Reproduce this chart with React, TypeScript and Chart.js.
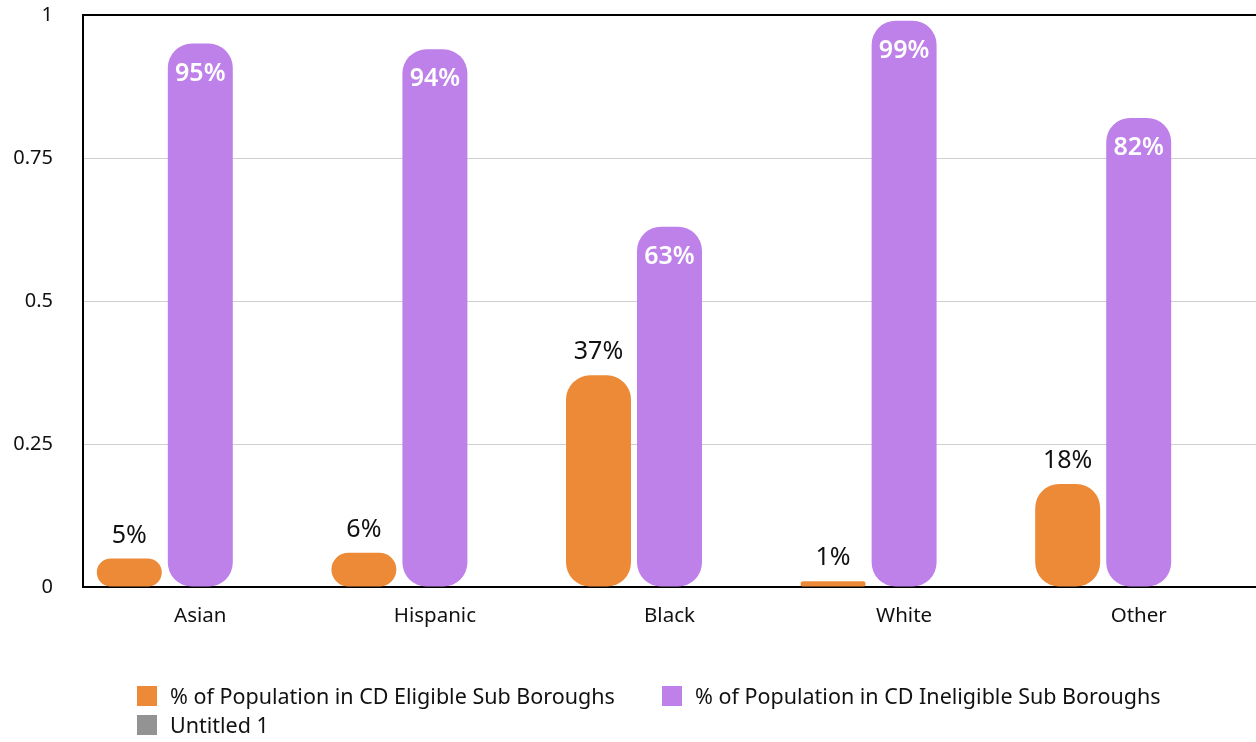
import { useEffect, useRef } from "react";
import { Chart, registerables } from "chart.js";
Chart.register(...registerables);

const categories = ["Asian", "Hispanic", "Black", "White", "Other"];
const eligible = [0.05, 0.06, 0.37, 0.01, 0.18];
const ineligible = [0.95, 0.94, 0.63, 0.99, 0.82];
const untitled: (number | null)[] = [null, null, null, null, null];
const seriesLabels = [
  "% of Population in CD Eligible Sub Boroughs",
  "% of Population in CD Ineligible Sub Boroughs",
  "Untitled 1",
];
const seriesColors = ["#EC8A37", "#BE80E9", "#939393"];
const yTickValues = [0, 0.25, 0.5, 0.75, 1];

const FONT = "'Noto Sans', 'Open Sans', sans-serif";

const valueLabels = {
  id: "valueLabels",
  afterDatasetsDraw(chart: any) {
    const ctx = chart.ctx;
    ctx.save();
    ctx.textAlign = "center";
    ctx.textBaseline = "middle";
    const m0 = chart.getDatasetMeta(0);
    m0.data.forEach((bar: any, i: number) => {
      ctx.fillStyle = "#111";
      ctx.font = `25px ${FONT}`;
      ctx.fillText(Math.round(eligible[i] * 100) + "%", bar.x, bar.y - 23);
    });
    const m1 = chart.getDatasetMeta(1);
    m1.data.forEach((bar: any, i: number) => {
      ctx.fillStyle = "#fff";
      ctx.font = `600 25px ${FONT}`;
      ctx.fillText(Math.round(ineligible[i] * 100) + "%", bar.x, bar.y + 30);
    });
    ctx.restore();
  },
};

const customLegend = {
  id: "customLegend",
  afterDraw(chart: any) {
    const ctx = chart.ctx;
    const pos = [
      [137, 686],
      [662, 686],
      [137, 715],
    ];
    ctx.save();
    ctx.textBaseline = "middle";
    ctx.textAlign = "left";
    ctx.font = `21.5px ${FONT}`;
    seriesLabels.forEach((lab, i) => {
      const [x, y] = pos[i];
      ctx.fillStyle = seriesColors[i];
      ctx.fillRect(x, y, 20, 20);
      ctx.fillStyle = "#111";
      ctx.fillText(lab, x + 33, y + 12);
    });
    ctx.restore();
  },
};

export default function App() {
  const ref = useRef<HTMLCanvasElement>(null);
  useEffect(() => {
    document.body.style.margin = "0";
    const chart = new Chart(ref.current!, {
      type: "bar",
      data: {
        labels: categories,
        datasets: [
          { label: seriesLabels[0], data: eligible, backgroundColor: seriesColors[0] },
          { label: seriesLabels[1], data: ineligible, backgroundColor: seriesColors[1] },
          { label: seriesLabels[2], data: untitled as any, backgroundColor: seriesColors[2] },
        ],
      },
      options: {
        animation: false,
        responsive: false,
        devicePixelRatio: 1,
        layout: { padding: { top: 15, right: 0, left: 0, bottom: 0 } },
        datasets: {
          bar: {
            categoryPercentage: 0.908,
            barPercentage: 0.915,
            borderRadius: 24,
            borderSkipped: false,
          },
        },
        plugins: {
          legend: { display: false },
          tooltip: { enabled: false },
        },
        scales: {
          x: {
            grid: { display: false, drawTicks: false },
            border: { color: "#000", width: 2 },
            ticks: { color: "#111", font: { family: FONT, size: 20.5 }, padding: 17 },
            afterFit: (s: any) => {
              s.height = 155;
            },
          },
          y: {
            min: 0,
            max: 1,
            afterBuildTicks: (s: any) => {
              s.ticks = yTickValues.map((v) => ({ value: v }));
            },
            ticks: {
              color: "#111",
              font: { family: FONT, size: 20 },
              padding: 30,
              callback: (v: any) => String(v),
            },
            grid: {
              drawTicks: false,
              color: (c: any) => (c.tick && c.tick.value === 1 ? "#000" : "#cfcfcf"),
              lineWidth: (c: any) => (c.tick && c.tick.value === 1 ? 2 : 1),
            },
            border: { color: "#000", width: 2 },
            afterFit: (s: any) => {
              s.width = 83;
              s.paddingTop = 0;
              s.paddingBottom = 0;
            },
          },
        },
      },
      plugins: [valueLabels, customLegend],
    });
    return () => chart.destroy();
  }, []);
  return <canvas ref={ref} width={1256} height={742} style={{ display: "block" }} />;
}
